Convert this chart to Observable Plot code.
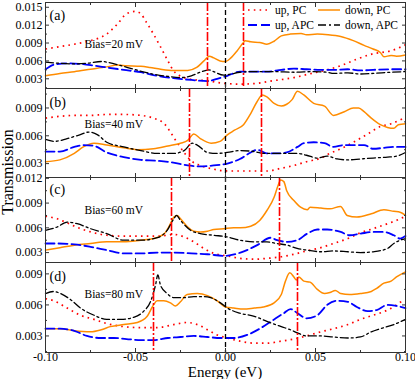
<!DOCTYPE html>
<html><head><meta charset="utf-8">
<script src="https://cdn.jsdelivr.net/npm/d3@7"></script>
<script src="https://cdn.jsdelivr.net/npm/@observablehq/plot@0.6"></script>
<style>
body{margin:0;background:#fff;}
#chart{position:relative;width:415px;height:379px;font-family:"Liberation Serif","Times New Roman",serif;}
#chart svg{position:absolute;left:0;overflow:visible;}
</style></head><body><div id="chart"></div>
<script>
// ---------- data ----------
const energyMajor = [-0.1, -0.05, 0, 0.05, 0.1];
const energyMinor = [-0.075, -0.025, 0.025, 0.075];
const biasesmV = [20, 40, 60, 80];
const panelLabels = ["(a)", "(b)", "(c)", "(d)"];
const seriesNames = ["up, PC", "down, PC", "up, APC", "down, APC"];
const yDomains = [[0.00137, 0.0158], [0.0015, 0.0111], [0.0018, 0.0121], [0.0014, 0.0101]];
const yMajor = [[0.003, 0.006, 0.009, 0.012, 0.015], [0.003, 0.006, 0.009], [0.003, 0.006, 0.009, 0.012], [0.003, 0.006, 0.009]];
const yMinor = [[0.0015, 0.0045, 0.0075, 0.0105, 0.0135], [0.0045, 0.0075, 0.0105], [0.0045, 0.0075, 0.0105], [0.0015, 0.0045, 0.0075]];

// panel (a) Bias = 20 mV
const aUpPC = [[-0.100,0.0080],[-0.092,0.0084],[-0.084,0.0088],[-0.075,0.0094],[-0.066,0.0105],[-0.060,0.0122],[-0.055,0.0139],[-0.050,0.0143],[-0.047,0.0139],[-0.044,0.0125],[-0.040,0.0105],[-0.036,0.0083],[-0.032,0.0060],[-0.029,0.0044],[-0.023,0.0032],[-0.016,0.0028],[-0.010,0.0027],[-0.005,0.0024],[0.001,0.0022],[0.008,0.0021],[0.016,0.0022],[0.027,0.0027],[0.038,0.0032],[0.045,0.0037],[0.055,0.0044],[0.064,0.0052],[0.073,0.0063],[0.082,0.0072],[0.092,0.0077],[0.100,0.0087]];
const aDownPC = [[-0.100,0.0035],[-0.092,0.0039],[-0.084,0.0042],[-0.075,0.0046],[-0.066,0.0050],[-0.060,0.0053],[-0.055,0.0052],[-0.047,0.0051],[-0.042,0.0049],[-0.036,0.0046],[-0.029,0.0044],[-0.021,0.0044],[-0.016,0.0049],[-0.012,0.0060],[-0.009,0.0068],[-0.0065,0.0065],[-0.003,0.0060],[0.000,0.0059],[0.003,0.0065],[0.0065,0.0077],[0.010,0.0091],[0.011,0.0094],[0.014,0.0092],[0.019,0.0091],[0.023,0.0088],[0.027,0.0093],[0.031,0.0102],[0.036,0.0105],[0.042,0.0106],[0.045,0.0104],[0.051,0.0105],[0.057,0.0104],[0.064,0.0101],[0.071,0.0094],[0.077,0.0086],[0.082,0.0080],[0.086,0.0074],[0.088,0.0067],[0.092,0.0069],[0.095,0.0068],[0.100,0.0070]];
const aUpAPC = [[-0.100,0.0046],[-0.095,0.0054],[-0.088,0.0056],[-0.081,0.0055],[-0.073,0.0052],[-0.066,0.0049],[-0.0565,0.0045],[-0.047,0.0041],[-0.038,0.0035],[-0.029,0.0031],[-0.019,0.0028],[-0.010,0.0026],[-0.0046,0.0030],[0.001,0.0035],[0.008,0.0042],[0.014,0.0042],[0.023,0.0042],[0.031,0.0045],[0.038,0.0047],[0.045,0.0046],[0.053,0.0045],[0.060,0.0045],[0.068,0.0046],[0.075,0.0044],[0.082,0.0045],[0.092,0.0046],[0.100,0.0046]];
const aDownAPC = [[-0.100,0.0058],[-0.092,0.0056],[-0.084,0.0055],[-0.077,0.0056],[-0.0685,0.0059],[-0.066,0.0058],[-0.058,0.0052],[-0.051,0.0046],[-0.042,0.0039],[-0.032,0.0034],[-0.025,0.0032],[-0.019,0.0035],[-0.014,0.0041],[-0.0093,0.0045],[-0.0065,0.0042],[-0.001,0.0036],[0.003,0.0038],[0.008,0.0041],[0.016,0.0042],[0.027,0.0042],[0.038,0.0041],[0.049,0.0042],[0.0565,0.0041],[0.060,0.0039],[0.068,0.0040],[0.075,0.0038],[0.082,0.0039],[0.092,0.0041],[0.100,0.0042]];

// panel (b) Bias = 40 mV
const bUpPC = [[-0.100,0.0079],[-0.092,0.0081],[-0.084,0.0082],[-0.075,0.0082],[-0.066,0.0083],[-0.0565,0.0083],[-0.047,0.0082],[-0.040,0.0079],[-0.034,0.0073],[-0.0306,0.0064],[-0.027,0.0053],[-0.023,0.0042],[-0.019,0.0033],[-0.014,0.0028],[-0.0065,0.0024],[0.001,0.0022],[0.008,0.0022],[0.016,0.0022],[0.023,0.0022],[0.031,0.0025],[0.038,0.0028],[0.045,0.0032],[0.053,0.0036],[0.058,0.0041],[0.064,0.0046],[0.071,0.0053],[0.079,0.0062],[0.086,0.0070],[0.092,0.0073],[0.099,0.0079]];
const bDownPC = [[-0.100,0.0032],[-0.092,0.0034],[-0.084,0.0041],[-0.079,0.0048],[-0.073,0.0052],[-0.066,0.0050],[-0.0565,0.0047],[-0.049,0.0045],[-0.040,0.0046],[-0.032,0.0049],[-0.025,0.0052],[-0.021,0.0055],[-0.0176,0.0062],[-0.014,0.0057],[-0.008,0.0052],[-0.003,0.0054],[0.001,0.0061],[0.005,0.0066],[0.010,0.0072],[0.014,0.0084],[0.0176,0.0097],[0.0204,0.0104],[0.023,0.0102],[0.027,0.0095],[0.031,0.0092],[0.034,0.0094],[0.037,0.0099],[0.040,0.0108],[0.0435,0.0104],[0.049,0.0095],[0.055,0.0092],[0.060,0.0082],[0.066,0.0086],[0.071,0.0090],[0.074,0.0090],[0.077,0.0086],[0.081,0.0079],[0.086,0.0072],[0.090,0.0069],[0.0935,0.0068],[0.096,0.0072],[0.100,0.0073]];
const bUpAPC = [[-0.100,0.0043],[-0.092,0.0043],[-0.084,0.0048],[-0.0787,0.0050],[-0.073,0.0049],[-0.066,0.0042],[-0.0565,0.0037],[-0.047,0.0034],[-0.038,0.0033],[-0.029,0.0031],[-0.021,0.0028],[-0.014,0.0027],[-0.0065,0.0028],[0.001,0.0030],[0.008,0.0035],[0.014,0.0042],[0.0176,0.0045],[0.023,0.0041],[0.029,0.0041],[0.034,0.0042],[0.040,0.0048],[0.0435,0.0052],[0.049,0.0053],[0.055,0.0052],[0.060,0.0048],[0.066,0.0050],[0.071,0.0050],[0.077,0.0050],[0.082,0.0046],[0.088,0.0047],[0.0935,0.0048],[0.100,0.0048]];
const bDownAPC = [[-0.100,0.0056],[-0.095,0.0054],[-0.088,0.0057],[-0.081,0.0061],[-0.076,0.0064],[-0.071,0.0061],[-0.066,0.0053],[-0.0565,0.0048],[-0.047,0.0044],[-0.038,0.0041],[-0.029,0.0041],[-0.023,0.0044],[-0.0185,0.0052],[-0.0157,0.0050],[-0.010,0.0042],[-0.005,0.0041],[0.001,0.0042],[0.008,0.0044],[0.016,0.0043],[0.021,0.0041],[0.027,0.0041],[0.034,0.0041],[0.040,0.0041],[0.045,0.0039],[0.051,0.0036],[0.0565,0.0038],[0.062,0.0035],[0.068,0.0034],[0.075,0.0035],[0.082,0.0036],[0.090,0.0037],[0.095,0.0038],[0.100,0.0042]];

// panel (c) Bias = 60 mV
const cUpPC = [[-0.100,0.0074],[-0.0935,0.0071],[-0.088,0.0066],[-0.0806,0.0059],[-0.073,0.0054],[-0.066,0.0051],[-0.0565,0.0050],[-0.047,0.0050],[-0.038,0.0050],[-0.0324,0.0051],[-0.0287,0.0052],[-0.023,0.0049],[-0.0176,0.0043],[-0.012,0.0035],[-0.0065,0.0029],[0.001,0.0026],[0.008,0.0023],[0.016,0.0022],[0.023,0.0023],[0.031,0.0025],[0.038,0.0028],[0.045,0.0032],[0.053,0.0036],[0.060,0.0041],[0.068,0.0047],[0.075,0.0054],[0.082,0.0059],[0.090,0.0065],[0.095,0.0069],[0.100,0.0074]];
const cDownPC = [[-0.100,0.0033],[-0.092,0.0036],[-0.084,0.0039],[-0.075,0.0041],[-0.066,0.0043],[-0.0565,0.0043],[-0.047,0.0045],[-0.040,0.0047],[-0.034,0.0053],[-0.0306,0.0065],[-0.0287,0.0073],[-0.0269,0.0075],[-0.025,0.0071],[-0.021,0.0061],[-0.0176,0.0056],[-0.014,0.0055],[-0.010,0.0056],[-0.0065,0.0058],[-0.001,0.0059],[0.0046,0.0060],[0.0083,0.0060],[0.014,0.0062],[0.019,0.0069],[0.023,0.0081],[0.027,0.0097],[0.029,0.0110],[0.0306,0.0118],[0.0324,0.0116],[0.034,0.0105],[0.038,0.0093],[0.0417,0.0085],[0.0454,0.0082],[0.047,0.0085],[0.053,0.0084],[0.058,0.0083],[0.0639,0.0086],[0.0676,0.0075],[0.073,0.0073],[0.081,0.0077],[0.088,0.0082],[0.0935,0.0080],[0.097,0.0079],[0.100,0.0075]];
const cUpAPC = [[-0.100,0.0041],[-0.0935,0.0041],[-0.084,0.0040],[-0.075,0.0037],[-0.066,0.0033],[-0.0565,0.0029],[-0.047,0.0029],[-0.038,0.0030],[-0.0287,0.0030],[-0.019,0.0029],[-0.010,0.0028],[-0.001,0.0026],[0.0083,0.0030],[0.0176,0.0039],[0.025,0.0048],[0.0287,0.0045],[0.0343,0.0043],[0.0398,0.0045],[0.0454,0.0053],[0.051,0.0058],[0.0565,0.0058],[0.064,0.0055],[0.069,0.0051],[0.075,0.0053],[0.082,0.0055],[0.088,0.0055],[0.0935,0.0051],[0.097,0.0047],[0.100,0.0050]];
const cDownAPC = [[-0.100,0.0057],[-0.0935,0.0061],[-0.088,0.0067],[-0.0824,0.0065],[-0.075,0.0059],[-0.066,0.0053],[-0.0565,0.0045],[-0.047,0.0045],[-0.038,0.0048],[-0.0324,0.0057],[-0.0287,0.0071],[-0.0272,0.0075],[-0.025,0.0069],[-0.0194,0.0057],[-0.014,0.0053],[-0.0065,0.0051],[0.001,0.0049],[0.008,0.0045],[0.016,0.0043],[0.023,0.0043],[0.0287,0.0041],[0.0343,0.0039],[0.0398,0.0035],[0.0454,0.0033],[0.053,0.0031],[0.060,0.0032],[0.068,0.0031],[0.075,0.0030],[0.082,0.0031],[0.090,0.0035],[0.0935,0.0041],[0.097,0.0045],[0.100,0.0047]];

// panel (d) Bias = 80 mV
const dUpPC = [[-0.100,0.0066],[-0.0954,0.0064],[-0.088,0.0057],[-0.0806,0.0050],[-0.073,0.0046],[-0.066,0.0042],[-0.0565,0.0039],[-0.047,0.0038],[-0.038,0.0038],[-0.0287,0.0041],[-0.0213,0.0043],[-0.0157,0.0041],[-0.010,0.0036],[-0.0046,0.0031],[0.001,0.0028],[0.008,0.0025],[0.016,0.0023],[0.023,0.0023],[0.031,0.0025],[0.038,0.0027],[0.045,0.0030],[0.053,0.0034],[0.060,0.0037],[0.068,0.0041],[0.075,0.0046],[0.082,0.0050],[0.090,0.0055],[0.095,0.0060],[0.099,0.0065]];
const dDownPC = [[-0.100,0.0037],[-0.092,0.0037],[-0.084,0.0035],[-0.075,0.0034],[-0.069,0.0036],[-0.064,0.0039],[-0.0565,0.0041],[-0.049,0.0043],[-0.0435,0.0049],[-0.040,0.0060],[-0.038,0.0064],[-0.0343,0.0064],[-0.0306,0.0062],[-0.0278,0.0059],[-0.025,0.0063],[-0.0213,0.0070],[-0.0157,0.0071],[-0.010,0.0069],[-0.0046,0.0064],[0.000,0.0058],[0.0046,0.0057],[0.010,0.0056],[0.016,0.0057],[0.021,0.0058],[0.027,0.0062],[0.031,0.0070],[0.0333,0.0083],[0.0357,0.0091],[0.038,0.0087],[0.0394,0.0084],[0.0407,0.0087],[0.0435,0.0083],[0.047,0.0082],[0.051,0.0075],[0.055,0.0071],[0.058,0.0072],[0.061,0.0074],[0.064,0.0071],[0.069,0.0070],[0.075,0.0071],[0.081,0.0073],[0.084,0.0076],[0.088,0.0081],[0.092,0.0083],[0.095,0.0087],[0.100,0.0092]];
const dUpAPC = [[-0.100,0.0037],[-0.092,0.0037],[-0.084,0.0035],[-0.077,0.0030],[-0.069,0.0028],[-0.062,0.0028],[-0.055,0.0027],[-0.047,0.0026],[-0.040,0.0026],[-0.032,0.0028],[-0.025,0.0029],[-0.0176,0.0030],[-0.010,0.0029],[-0.0028,0.0028],[0.0046,0.0028],[0.012,0.0031],[0.019,0.0037],[0.027,0.0046],[0.0324,0.0052],[0.0361,0.0056],[0.040,0.0052],[0.045,0.0047],[0.051,0.0050],[0.0565,0.0060],[0.062,0.0064],[0.068,0.0063],[0.073,0.0058],[0.079,0.0054],[0.084,0.0055],[0.090,0.0060],[0.095,0.0059],[0.100,0.0057]];
const dDownAPC = [[-0.100,0.0071],[-0.0954,0.0073],[-0.0917,0.0071],[-0.086,0.0065],[-0.0806,0.0057],[-0.073,0.0050],[-0.066,0.0046],[-0.058,0.0046],[-0.051,0.0048],[-0.0454,0.0054],[-0.0417,0.0063],[-0.0389,0.0079],[-0.0376,0.0089],[-0.0361,0.0079],[-0.0324,0.0071],[-0.0287,0.0067],[-0.0231,0.0067],[-0.0176,0.0068],[-0.012,0.0068],[-0.0083,0.0067],[-0.0028,0.0062],[0.001,0.0057],[0.008,0.0052],[0.016,0.0049],[0.023,0.0044],[0.031,0.0039],[0.036,0.0036],[0.040,0.0033],[0.045,0.0030],[0.053,0.0030],[0.060,0.0029],[0.068,0.0028],[0.075,0.0029],[0.081,0.0034],[0.086,0.0037],[0.0935,0.0041],[0.100,0.0046]];

const panelSeries = [
  [aUpPC, aDownPC, aUpAPC, aDownAPC],
  [bUpPC, bDownPC, bUpAPC, bDownAPC],
  [cUpPC, cDownPC, cUpAPC, cDownAPC],
  [dUpPC, dDownPC, dUpAPC, dDownAPC]
];

// ---------- styles / layout ----------
const seriesStyles = [
  {stroke: "#ff0000", strokeWidth: 1.7, strokeDasharray: "1.6,4.2", strokeLinecap: "butt"},
  {stroke: "#ff8c00", strokeWidth: 1.5},
  {stroke: "#0000ff", strokeWidth: 1.8, strokeDasharray: "9,4"},
  {stroke: "#000000", strokeWidth: 1.3, strokeDasharray: "8,3,2,3"}
];
const panelTop = [2, 88, 177, 262];
const panelBottom = [88, 177, 262, 352];
const labelDy = [13, 14, 12, 14];
const biasDy = [42, 36, 33, 32];
const FONT = "Liberation Serif, Times New Roman, serif";

const chart = document.getElementById("chart");

for (let i = 0; i < 4; i++) {
  const pad = 12;
  const last = i === 3;
  const mb = last ? 30 : pad;
  const h = panelBottom[i] - panelTop[i];
  const half = biasesmV[i] / 2000; // eV
  const marks = [];
  panelSeries[i].forEach((s, k) => {
    marks.push(Plot.line(s, {x: d => d[0], y: d => d[1], curve: "monotone-x", ...seriesStyles[k]}));
  });
  marks.push(Plot.ruleX([0], {stroke: "#000", strokeWidth: 1.3, strokeDasharray: "5,3"}));
  marks.push(Plot.ruleX([-half, half], {stroke: "#ff0000", strokeWidth: 1.6, strokeDasharray: "9,2,2,2"}));
  marks.push(Plot.frame({stroke: "#333", strokeWidth: 1}));
  // y axes (inward ticks both sides)
  marks.push(Plot.axisY(yMajor[i], {anchor: "left", tickSize: -4, tickPadding: 7, tickFormat: d => d.toFixed(3), label: null, fontSize: 12, stroke: "#333"}));
  marks.push(Plot.axisY(yMinor[i], {anchor: "left", tickSize: -2, tickFormat: () => "", label: null, stroke: "#333"}));
  marks.push(Plot.axisY(yMajor[i], {anchor: "right", tickSize: -4, tickFormat: () => "", label: null, stroke: "#333"}));
  marks.push(Plot.axisY(yMinor[i], {anchor: "right", tickSize: -2, tickFormat: () => "", label: null, stroke: "#333"}));
  // x axes
  marks.push(Plot.axisX(energyMajor, {anchor: "bottom", tickSize: -4, tickPadding: 4,
    tickFormat: last ? (d => d.toFixed(2)) : (() => ""), label: null, fontSize: 12, stroke: "#333"}));
  marks.push(Plot.axisX(energyMinor, {anchor: "bottom", tickSize: -2, tickFormat: () => "", label: null, stroke: "#333"}));
  marks.push(Plot.axisX(energyMajor, {anchor: "top", tickSize: -4, tickFormat: () => "", label: null, stroke: "#333"}));
  marks.push(Plot.axisX(energyMinor, {anchor: "top", tickSize: -2, tickFormat: () => "", label: null, stroke: "#333"}));
  // panel texts
  marks.push(Plot.text([panelLabels[i]], {frameAnchor: "top-left", dx: 4, dy: labelDy[i], text: d => d, fontSize: 14, textAnchor: "start", lineAnchor: "middle", fill: "#000"}));
  marks.push(Plot.text([`Bias=${biasesmV[i]} mV`], {frameAnchor: "top-left", dx: 39, dy: biasDy[i], text: d => d, fontSize: 11.5, textAnchor: "start", lineAnchor: "middle", fill: "#000"}));

  const svg = Plot.plot({
    width: 415, height: h + pad + mb,
    marginLeft: 45, marginRight: 10, marginTop: pad, marginBottom: mb,
    style: {background: "transparent", overflow: "visible", fontFamily: FONT, fontSize: "12px", color: "#000"},
    x: {domain: [-0.1, 0.1]},
    y: {domain: yDomains[i]},
    marks
  });
  svg.style.top = (panelTop[i] - pad) + "px";
  chart.appendChild(svg);
}

// overlay: legend and axis titles
const ov = d3.select(chart).append("svg")
  .attr("width", 415).attr("height", 379)
  .style("top", "0px").style("pointer-events", "none")
  .style("font-family", FONT);

const legendPos = [[248, 10], [318, 10], [248, 25], [318, 25]];
seriesNames.forEach((name, k) => {
  const [lx, ly] = legendPos[k];
  const st = seriesStyles[k];
  ov.append("line").attr("x1", lx).attr("x2", lx + 22).attr("y1", ly).attr("y2", ly)
    .attr("stroke", st.stroke).attr("stroke-width", st.strokeWidth)
    .attr("stroke-dasharray", st.strokeDasharray || null);
  ov.append("text").attr("x", lx + 27).attr("y", ly).attr("dy", "0.35em")
    .attr("font-size", 11.5).text(name);
});

ov.append("text").attr("x", 225).attr("y", 376.5).attr("text-anchor", "middle")
  .attr("font-size", 15).text("Energy (eV)");
ov.append("text").attr("transform", "translate(13,172) rotate(-90)").attr("text-anchor", "middle")
  .attr("font-size", 16).text("Transmission");
</script>
</body></html>
